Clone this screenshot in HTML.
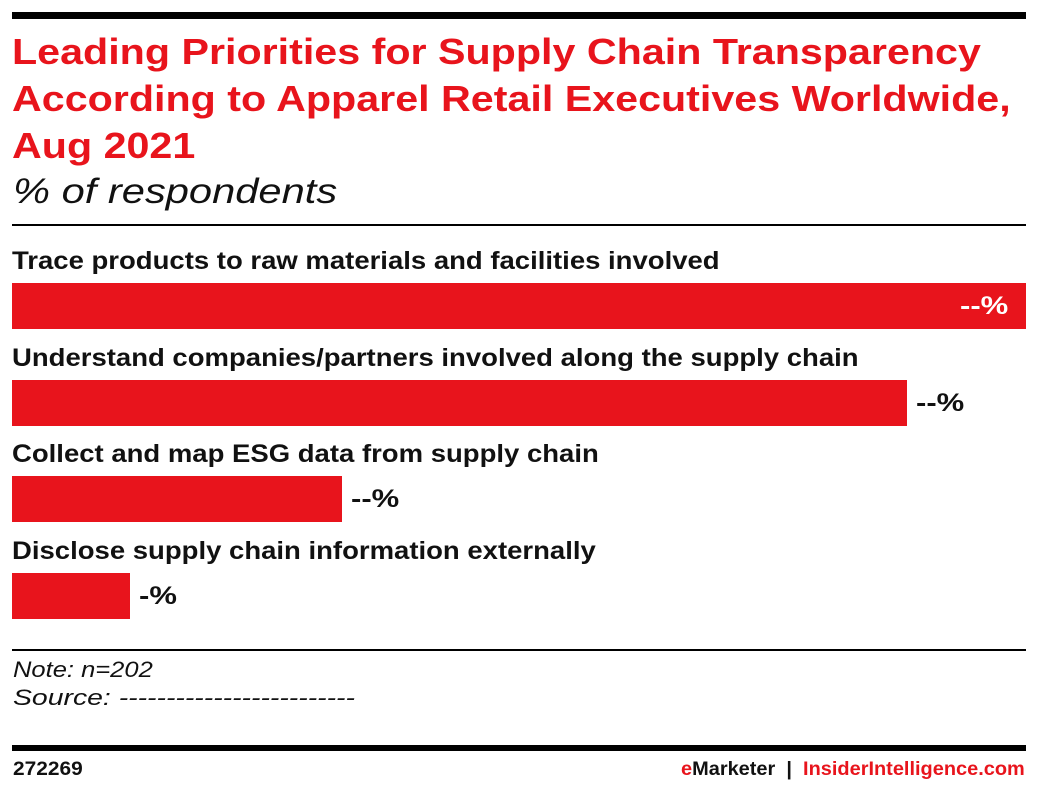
<!DOCTYPE html>
<html><head><meta charset="utf-8"><style>
body{margin:0;width:1038px;height:794px;background:#fff;font-family:"Liberation Sans",sans-serif;position:relative;overflow:hidden}
.a{position:absolute;white-space:nowrap;transform-origin:0 0}
.title{left:12px;top:28px;font-size:36px;font-weight:bold;color:#e8141c;line-height:47px;transform:scaleX(1.145)}
.sub{left:13px;top:172px;font-size:35px;font-style:italic;color:#111;transform:scaleX(1.19)}
.lbl{font-size:25px;font-weight:bold;color:#111;left:12px;transform:scaleX(1.1)}
.val{font-size:25px;font-weight:bold;color:#111;transform:scaleX(1.24)}
.bar{position:absolute;background:#e8141c}
</style></head><body>
<div class="a" style="left:12px;top:12px;width:1014px;height:7px;background:#000"></div>
<div class="a title">Leading Priorities for Supply Chain Transparency<br>According to Apparel Retail Executives Worldwide,<br>Aug 2021</div>
<div class="a sub">% of respondents</div>
<div class="a" style="left:12px;top:224px;width:1014px;height:2px;background:#000"></div>
<div id="chart"></div>
<div class="a" style="left:12px;top:649px;width:1014px;height:2px;background:#000"></div>
<div class="a" style="left:13px;top:657px;font-size:22px;font-style:italic;color:#111;transform:scaleX(1.16)">Note: n=202</div>
<div class="a" style="left:13px;top:685px;font-size:22px;font-style:italic;color:#111;transform:scaleX(1.29)">Source: -------------------------</div>
<div class="a" style="left:12px;top:745px;width:1014px;height:6px;background:#000"></div>
<div class="a" style="left:13px;top:759px;font-size:19px;font-weight:bold;color:#111;transform:scaleX(1.1)">272269</div>
<div class="a" style="left:681px;top:759px;font-size:19px;font-weight:bold;color:#111;transform:scaleX(1.05)"><span style="color:#e8141c">e</span>Marketer &nbsp;|&nbsp; <span style="color:#e8141c">InsiderIntelligence.com</span></div>
<script>
const categories=["Trace products to raw materials and facilities involved","Understand companies/partners involved along the supply chain","Collect and map ESG data from supply chain","Disclose supply chain information externally"];
const values=[100,88.3,32.5,11.6];
const valueLabels=["--%","--%","--%","-%"];
const maxVal=100;
const chart=document.getElementById('chart');
const x0=12,plotW=1014,rowH=96.7,top0=247;
function xScale(v){return v/maxVal*plotW;}
categories.forEach((c,i)=>{
  const y=top0+i*rowH;
  const l=document.createElement('div');l.className='a lbl';l.style.top=y+'px';l.textContent=c;
  
  
  chart.appendChild(l);
  const w=xScale(values[i]);
  const b=document.createElement('div');b.className='bar';b.style.left=x0+'px';b.style.top=(y+36)+'px';b.style.width=w+'px';b.style.height='46px';
  
  
  chart.appendChild(b);
  const v=document.createElement('div');v.className='a val';v.textContent=valueLabels[i];v.style.top=(y+45)+'px';
  if(w>plotW-60){v.style.left=(x0+w-66)+'px';v.style.color='#fff';}else v.style.left=(x0+w+9)+'px';
  
  
  chart.appendChild(v);
});
</script>
</body></html>
